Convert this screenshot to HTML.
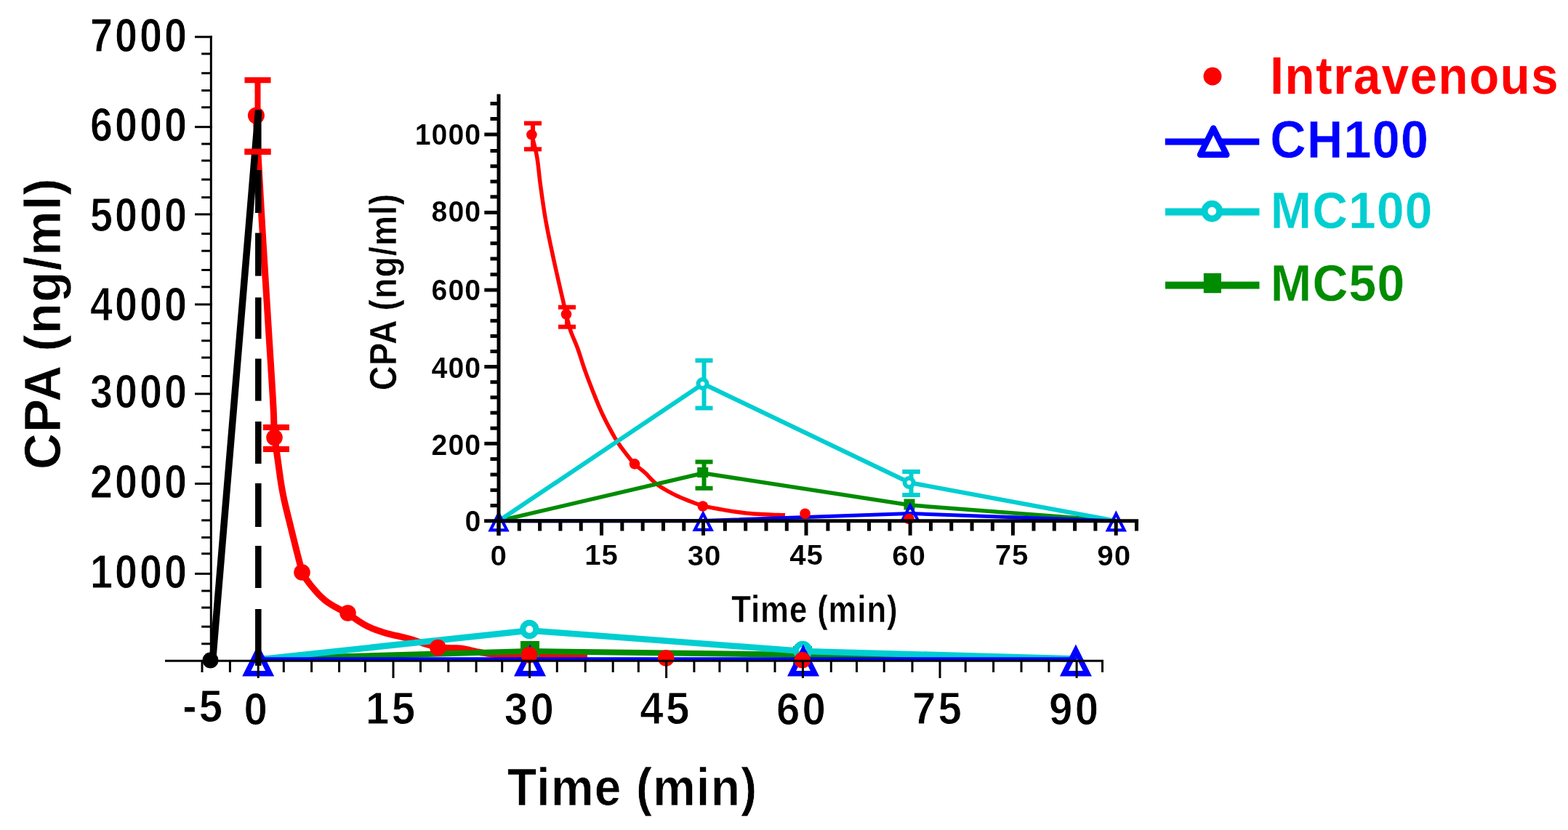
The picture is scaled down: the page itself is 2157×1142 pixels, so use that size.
<!DOCTYPE html>
<html><head><meta charset="utf-8"><title>CPA plasma concentration</title>
<style>html,body{margin:0;padding:0;background:#fff;overflow:hidden}svg{display:block}
text{font-family:"Liberation Sans",sans-serif;font-weight:bold;font-size:100px;stroke-linejoin:round}</style></head>
<body><svg width="2157" height="1142" viewBox="0 0 2157 1142">
<rect x="0" y="0" width="2157" height="1142" fill="#fff"/>
<polyline points="352,158 352.8,172.23 353.59,186.5 354.39,200.8 355.18,215.1 355.98,229.39 356.77,243.65 357.57,257.86 358.38,272 359.19,286.05 360,300 360.79,313.23 361.58,326.37 362.38,339.42 363.18,352.41 363.98,365.36 364.78,378.28 365.59,391.18 366.39,404.09 367.2,417.03 368,430 368.83,443.33 369.7,457.17 370.59,471.3 371.49,485.5 372.38,499.56 373.24,513.25 374.05,526.36 374.79,538.67 375.45,549.95 376,560 376.24,565.07 376.44,569.8 376.59,574.24 376.71,578.44 376.83,582.43 376.95,586.27 377.1,590.01 377.28,593.68 377.51,597.32 377.8,601 378.09,603.99 378.4,606.83 378.74,609.56 379.1,612.22 379.48,614.86 379.87,617.5 380.29,620.2 380.71,622.99 381.15,625.91 381.6,629 382.21,633.35 382.83,637.94 383.47,642.71 384.14,647.64 384.83,652.67 385.56,657.78 386.33,662.9 387.14,668.01 387.99,673.05 388.9,678 389.88,682.92 390.92,687.83 392.02,692.73 393.16,697.63 394.34,702.53 395.54,707.43 396.76,712.32 397.98,717.21 399.2,722.11 400.4,727 401.63,732.05 402.93,737.34 404.27,742.75 405.63,748.2 406.97,753.58 408.29,758.79 409.54,763.74 410.71,768.32 411.77,772.44 412.7,776 413.08,777.52 413.39,778.89 413.65,780.13 413.88,781.28 414.11,782.37 414.36,783.44 414.65,784.5 415.01,785.59 415.45,786.75 416,788 416.97,789.93 418.12,791.96 419.41,794.06 420.83,796.21 422.35,798.39 423.94,800.58 425.59,802.76 427.26,804.9 428.94,806.99 430.6,809 432.26,810.97 433.93,812.91 435.63,814.82 437.37,816.71 439.14,818.57 440.97,820.4 442.86,822.2 444.82,823.97 446.87,825.7 449,827.4 451.6,829.29 454.36,831.1 457.26,832.86 460.27,834.57 463.34,836.25 466.44,837.91 469.54,839.56 472.61,841.22 475.61,842.89 478.5,844.6 481.15,846.26 483.76,847.97 486.34,849.71 488.9,851.46 491.44,853.19 493.97,854.89 496.5,856.55 499.05,858.13 501.61,859.62 504.2,861 506.61,862.18 509.01,863.29 511.4,864.34 513.8,865.32 516.2,866.25 518.63,867.15 521.09,868.01 523.58,868.85 526.11,869.68 528.7,870.5 531.58,871.36 534.5,872.15 537.45,872.89 540.44,873.59 543.48,874.27 546.55,874.95 549.68,875.65 552.86,876.38 556.1,877.16 559.4,878 563.49,879.15 567.74,880.43 572.12,881.82 576.59,883.26 581.11,884.71 585.64,886.13 590.13,887.46 594.55,888.66 598.85,889.69 603,890.5 606.39,890.98 609.74,891.3 613.05,891.49 616.31,891.59 619.53,891.63 622.71,891.66 625.84,891.7 628.94,891.79 631.99,891.98 635,892.3 637.62,892.69 640.18,893.15 642.67,893.67 645.12,894.23 647.56,894.81 649.98,895.39 652.42,895.97 654.9,896.53 657.41,897.04 660,897.5 662.86,897.95 665.75,898.38 668.67,898.79 671.61,899.18 674.59,899.54 677.6,899.88 680.64,900.2 683.72,900.49 686.84,900.76 690,901 693.61,901.23 697.28,901.4 701,901.53 704.78,901.63 708.59,901.7 712.44,901.75 716.32,901.8 720.2,901.85 724.1,901.92 728,902 732.12,902.1 736.3,902.21 740.51,902.32 744.75,902.43 749,902.53 753.25,902.64 757.49,902.74 761.7,902.83 765.88,902.92 770,903 773.88,903.07 777.72,903.13 781.54,903.18 785.34,903.23 789.12,903.28 792.89,903.32 796.66,903.36 800.43,903.41 804.21,903.45 808,903.5" fill="none" stroke="#ff0000" stroke-width="9" stroke-linejoin="round" stroke-linecap="butt"/>
<polyline points="355.2,906.5 728.6,896 1104.4,901 1481.1,906.5" fill="none" stroke="#008c00" stroke-width="8" stroke-linejoin="round" stroke-linecap="butt"/>
<rect x="716" y="882" width="26" height="26" fill="#008c00"/>
<rect x="1091" y="889" width="26" height="26" fill="#008c00"/>
<polyline points="355.2,907.5 728.6,867.5 1104.4,896 1481.1,906.5" fill="none" stroke="#00ced1" stroke-width="8.5" stroke-linejoin="round" stroke-linecap="butt"/>
<circle cx="728.3" cy="866" r="9.1" fill="#fff" stroke="#00ced1" stroke-width="8.2"/>
<circle cx="1104.2" cy="895" r="9.1" fill="#fff" stroke="#00ced1" stroke-width="8.2"/>
<line x1="355.2" y1="906.8" x2="1481.1" y2="906.8" stroke="#0000ff" stroke-width="5" stroke-linecap="butt"/>
<path d="M355.2 886.5L377.2 930.5L333.2 930.5ZM355.2 903.27L365.06 923L345.34 923Z" fill="#0000ff" fill-rule="evenodd"/>
<path d="M729 886.5L751 930.5L707 930.5ZM729 903.27L738.86 923L719.14 923Z" fill="#0000ff" fill-rule="evenodd"/>
<path d="M1105 886.5L1127 930.5L1083 930.5ZM1105 903.27L1114.86 923L1095.14 923Z" fill="#0000ff" fill-rule="evenodd"/>
<path d="M1479.9 886.5L1501.9 930.5L1457.9 930.5ZM1479.9 903.27L1489.76 923L1470.04 923Z" fill="#0000ff" fill-rule="evenodd"/>
<line x1="354.5" y1="110.2" x2="354.5" y2="208.8" stroke="#ff0000" stroke-width="8" stroke-linecap="butt"/>
<line x1="336.5" y1="110.2" x2="372.5" y2="110.2" stroke="#ff0000" stroke-width="8" stroke-linecap="butt"/>
<line x1="336.5" y1="208.8" x2="372.5" y2="208.8" stroke="#ff0000" stroke-width="8" stroke-linecap="butt"/>
<circle cx="352.4" cy="159" r="11.5" fill="#ff0000"/>
<line x1="380" y1="588.1" x2="380" y2="618.1" stroke="#ff0000" stroke-width="8" stroke-linecap="butt"/>
<line x1="362" y1="588.1" x2="398" y2="588.1" stroke="#ff0000" stroke-width="8" stroke-linecap="butt"/>
<line x1="362" y1="618.1" x2="398" y2="618.1" stroke="#ff0000" stroke-width="8" stroke-linecap="butt"/>
<circle cx="377.5" cy="602" r="11.3" fill="#ff0000"/>
<circle cx="415.5" cy="787.5" r="11.3" fill="#ff0000"/>
<circle cx="478.5" cy="843.5" r="11.3" fill="#ff0000"/>
<circle cx="602.4" cy="891" r="11.3" fill="#ff0000"/>
<circle cx="728" cy="901.3" r="11.3" fill="#ff0000"/>
<circle cx="916.2" cy="905.5" r="11.3" fill="#ff0000"/>
<circle cx="1103.8" cy="908.2" r="11.3" fill="#ff0000"/>
<polyline points="292.5,909 355.5,153" fill="none" stroke="#000000" stroke-width="9.5" stroke-linejoin="round" stroke-linecap="butt"/>
<circle cx="289.5" cy="908.5" r="11" fill="#000000"/>
<line x1="355.3" y1="151" x2="355.3" y2="208" stroke="#000000" stroke-width="8.5" stroke-linecap="butt"/>
<line x1="355.3" y1="234" x2="355.3" y2="293" stroke="#000000" stroke-width="8.5" stroke-linecap="butt"/>
<line x1="355.3" y1="320.5" x2="355.3" y2="379.7" stroke="#000000" stroke-width="8.5" stroke-linecap="butt"/>
<line x1="355.3" y1="409.3" x2="355.3" y2="466.2" stroke="#000000" stroke-width="8.5" stroke-linecap="butt"/>
<line x1="355.3" y1="493.5" x2="355.3" y2="551.6" stroke="#000000" stroke-width="8.5" stroke-linecap="butt"/>
<line x1="355.3" y1="580" x2="355.3" y2="638" stroke="#000000" stroke-width="8.5" stroke-linecap="butt"/>
<line x1="355.3" y1="665" x2="355.3" y2="725" stroke="#000000" stroke-width="8.5" stroke-linecap="butt"/>
<line x1="355.3" y1="751" x2="355.3" y2="809" stroke="#000000" stroke-width="8.5" stroke-linecap="butt"/>
<line x1="355.3" y1="838" x2="355.3" y2="916" stroke="#000000" stroke-width="8.5" stroke-linecap="butt"/>
<line x1="336.5" y1="208.8" x2="372.5" y2="208.8" stroke="#ff0000" stroke-width="8" stroke-linecap="butt"/>
<line x1="290.3" y1="49.3" x2="290.3" y2="909.3" stroke="#000000" stroke-width="3" stroke-linecap="butt"/>
<line x1="268" y1="50.8" x2="291.8" y2="50.8" stroke="#000000" stroke-width="3" stroke-linecap="butt"/>
<line x1="268" y1="174.7" x2="291.8" y2="174.7" stroke="#000000" stroke-width="3" stroke-linecap="butt"/>
<line x1="268" y1="294.9" x2="291.8" y2="294.9" stroke="#000000" stroke-width="3" stroke-linecap="butt"/>
<line x1="268" y1="418.9" x2="291.8" y2="418.9" stroke="#000000" stroke-width="3" stroke-linecap="butt"/>
<line x1="268" y1="541.9" x2="291.8" y2="541.9" stroke="#000000" stroke-width="3" stroke-linecap="butt"/>
<line x1="268" y1="665.5" x2="291.8" y2="665.5" stroke="#000000" stroke-width="3" stroke-linecap="butt"/>
<line x1="268" y1="789.4" x2="291.8" y2="789.4" stroke="#000000" stroke-width="3" stroke-linecap="butt"/>
<line x1="277.2" y1="74" x2="290.3" y2="74" stroke="#000000" stroke-width="3" stroke-linecap="butt"/>
<line x1="277.2" y1="100.7" x2="290.3" y2="100.7" stroke="#000000" stroke-width="3" stroke-linecap="butt"/>
<line x1="277.2" y1="124.5" x2="290.3" y2="124.5" stroke="#000000" stroke-width="3" stroke-linecap="butt"/>
<line x1="277.2" y1="147.7" x2="290.3" y2="147.7" stroke="#000000" stroke-width="3" stroke-linecap="butt"/>
<line x1="277.2" y1="198" x2="290.3" y2="198" stroke="#000000" stroke-width="3" stroke-linecap="butt"/>
<line x1="277.2" y1="221" x2="290.3" y2="221" stroke="#000000" stroke-width="3" stroke-linecap="butt"/>
<line x1="277.2" y1="247" x2="290.3" y2="247" stroke="#000000" stroke-width="3" stroke-linecap="butt"/>
<line x1="277.2" y1="271.6" x2="290.3" y2="271.6" stroke="#000000" stroke-width="3" stroke-linecap="butt"/>
<line x1="277.2" y1="321.6" x2="290.3" y2="321.6" stroke="#000000" stroke-width="3" stroke-linecap="butt"/>
<line x1="277.2" y1="345.2" x2="290.3" y2="345.2" stroke="#000000" stroke-width="3" stroke-linecap="butt"/>
<line x1="277.2" y1="371.5" x2="290.3" y2="371.5" stroke="#000000" stroke-width="3" stroke-linecap="butt"/>
<line x1="277.2" y1="394.8" x2="290.3" y2="394.8" stroke="#000000" stroke-width="3" stroke-linecap="butt"/>
<line x1="277.2" y1="444.7" x2="290.3" y2="444.7" stroke="#000000" stroke-width="3" stroke-linecap="butt"/>
<line x1="277.2" y1="468.8" x2="290.3" y2="468.8" stroke="#000000" stroke-width="3" stroke-linecap="butt"/>
<line x1="277.2" y1="492" x2="290.3" y2="492" stroke="#000000" stroke-width="3" stroke-linecap="butt"/>
<line x1="277.2" y1="517.5" x2="290.3" y2="517.5" stroke="#000000" stroke-width="3" stroke-linecap="butt"/>
<line x1="277.2" y1="565.7" x2="290.3" y2="565.7" stroke="#000000" stroke-width="3" stroke-linecap="butt"/>
<line x1="277.2" y1="591.8" x2="290.3" y2="591.8" stroke="#000000" stroke-width="3" stroke-linecap="butt"/>
<line x1="277.2" y1="615.1" x2="290.3" y2="615.1" stroke="#000000" stroke-width="3" stroke-linecap="butt"/>
<line x1="277.2" y1="642.3" x2="290.3" y2="642.3" stroke="#000000" stroke-width="3" stroke-linecap="butt"/>
<line x1="277.2" y1="688.8" x2="290.3" y2="688.8" stroke="#000000" stroke-width="3" stroke-linecap="butt"/>
<line x1="277.2" y1="715.9" x2="290.3" y2="715.9" stroke="#000000" stroke-width="3" stroke-linecap="butt"/>
<line x1="277.2" y1="739.5" x2="290.3" y2="739.5" stroke="#000000" stroke-width="3" stroke-linecap="butt"/>
<line x1="277.2" y1="761.8" x2="290.3" y2="761.8" stroke="#000000" stroke-width="3" stroke-linecap="butt"/>
<line x1="277.2" y1="813" x2="290.3" y2="813" stroke="#000000" stroke-width="3" stroke-linecap="butt"/>
<line x1="277.2" y1="836" x2="290.3" y2="836" stroke="#000000" stroke-width="3" stroke-linecap="butt"/>
<line x1="277.2" y1="862.2" x2="290.3" y2="862.2" stroke="#000000" stroke-width="3" stroke-linecap="butt"/>
<line x1="277.2" y1="885.8" x2="290.3" y2="885.8" stroke="#000000" stroke-width="3" stroke-linecap="butt"/>
<line x1="227" y1="909.3" x2="1518" y2="909.3" stroke="#000000" stroke-width="3" stroke-linecap="butt"/>
<line x1="355.2" y1="909.3" x2="355.2" y2="933" stroke="#000000" stroke-width="3" stroke-linecap="butt"/>
<line x1="541" y1="909.3" x2="541" y2="933" stroke="#000000" stroke-width="3" stroke-linecap="butt"/>
<line x1="728.6" y1="909.3" x2="728.6" y2="933" stroke="#000000" stroke-width="3" stroke-linecap="butt"/>
<line x1="916.6" y1="909.3" x2="916.6" y2="933" stroke="#000000" stroke-width="3" stroke-linecap="butt"/>
<line x1="1104.4" y1="909.3" x2="1104.4" y2="933" stroke="#000000" stroke-width="3" stroke-linecap="butt"/>
<line x1="1293" y1="909.3" x2="1293" y2="933" stroke="#000000" stroke-width="3" stroke-linecap="butt"/>
<line x1="1481.1" y1="909.3" x2="1481.1" y2="933" stroke="#000000" stroke-width="3" stroke-linecap="butt"/>
<line x1="278" y1="909.3" x2="278" y2="925" stroke="#000000" stroke-width="3" stroke-linecap="butt"/>
<line x1="316.4" y1="909.3" x2="316.4" y2="925" stroke="#000000" stroke-width="3" stroke-linecap="butt"/>
<line x1="390.3" y1="909.3" x2="390.3" y2="925" stroke="#000000" stroke-width="3" stroke-linecap="butt"/>
<line x1="428.6" y1="909.3" x2="428.6" y2="925" stroke="#000000" stroke-width="3" stroke-linecap="butt"/>
<line x1="466.6" y1="909.3" x2="466.6" y2="925" stroke="#000000" stroke-width="3" stroke-linecap="butt"/>
<line x1="502.4" y1="909.3" x2="502.4" y2="925" stroke="#000000" stroke-width="3" stroke-linecap="butt"/>
<line x1="578.5" y1="909.3" x2="578.5" y2="925" stroke="#000000" stroke-width="3" stroke-linecap="butt"/>
<line x1="616.8" y1="909.3" x2="616.8" y2="925" stroke="#000000" stroke-width="3" stroke-linecap="butt"/>
<line x1="655.1" y1="909.3" x2="655.1" y2="925" stroke="#000000" stroke-width="3" stroke-linecap="butt"/>
<line x1="690.7" y1="909.3" x2="690.7" y2="925" stroke="#000000" stroke-width="3" stroke-linecap="butt"/>
<line x1="766.3" y1="909.3" x2="766.3" y2="925" stroke="#000000" stroke-width="3" stroke-linecap="butt"/>
<line x1="805.2" y1="909.3" x2="805.2" y2="925" stroke="#000000" stroke-width="3" stroke-linecap="butt"/>
<line x1="843.2" y1="909.3" x2="843.2" y2="925" stroke="#000000" stroke-width="3" stroke-linecap="butt"/>
<line x1="878.3" y1="909.3" x2="878.3" y2="925" stroke="#000000" stroke-width="3" stroke-linecap="butt"/>
<line x1="954.9" y1="909.3" x2="954.9" y2="925" stroke="#000000" stroke-width="3" stroke-linecap="butt"/>
<line x1="989.9" y1="909.3" x2="989.9" y2="925" stroke="#000000" stroke-width="3" stroke-linecap="butt"/>
<line x1="1028" y1="909.3" x2="1028" y2="925" stroke="#000000" stroke-width="3" stroke-linecap="butt"/>
<line x1="1066" y1="909.3" x2="1066" y2="925" stroke="#000000" stroke-width="3" stroke-linecap="butt"/>
<line x1="1143.3" y1="909.3" x2="1143.3" y2="925" stroke="#000000" stroke-width="3" stroke-linecap="butt"/>
<line x1="1178.5" y1="909.3" x2="1178.5" y2="925" stroke="#000000" stroke-width="3" stroke-linecap="butt"/>
<line x1="1216.2" y1="909.3" x2="1216.2" y2="925" stroke="#000000" stroke-width="3" stroke-linecap="butt"/>
<line x1="1255" y1="909.3" x2="1255" y2="925" stroke="#000000" stroke-width="3" stroke-linecap="butt"/>
<line x1="1328.2" y1="909.3" x2="1328.2" y2="925" stroke="#000000" stroke-width="3" stroke-linecap="butt"/>
<line x1="1366.6" y1="909.3" x2="1366.6" y2="925" stroke="#000000" stroke-width="3" stroke-linecap="butt"/>
<line x1="1405" y1="909.3" x2="1405" y2="925" stroke="#000000" stroke-width="3" stroke-linecap="butt"/>
<line x1="1442.9" y1="909.3" x2="1442.9" y2="925" stroke="#000000" stroke-width="3" stroke-linecap="butt"/>
<line x1="1516.5" y1="909.3" x2="1516.5" y2="925" stroke="#000000" stroke-width="3" stroke-linecap="butt"/>
<text transform="matrix(0.5563 0 0 0.6507 124.02 70.75)" fill="#000000" letter-spacing="5.5" stroke="#fff" stroke-width="1.5">7000</text>
<text transform="matrix(0.5563 0 0 0.6507 124.02 193.85)" fill="#000000" letter-spacing="5.5" stroke="#fff" stroke-width="1.5">6000</text>
<text transform="matrix(0.5563 0 0 0.6507 124.02 317.75)" fill="#000000" letter-spacing="5.5" stroke="#fff" stroke-width="1.5">5000</text>
<text transform="matrix(0.5563 0 0 0.6507 124.02 440.95)" fill="#000000" letter-spacing="5.5" stroke="#fff" stroke-width="1.5">4000</text>
<text transform="matrix(0.5563 0 0 0.6507 124.02 561.35)" fill="#000000" letter-spacing="5.5" stroke="#fff" stroke-width="1.5">3000</text>
<text transform="matrix(0.5563 0 0 0.6507 124.02 685.05)" fill="#000000" letter-spacing="5.5" stroke="#fff" stroke-width="1.5">2000</text>
<text transform="matrix(0.5563 0 0 0.6507 124.02 808.75)" fill="#000000" letter-spacing="5.5" stroke="#fff" stroke-width="1.5">1000</text>
<text transform="matrix(0.5823 0 0 0.6377 251.19 992.86)" fill="#000000" letter-spacing="5.5" stroke="#fff" stroke-width="1.5">-5</text>
<text transform="matrix(0.5823 0 0 0.6377 335.39 996.6)" fill="#000000" letter-spacing="5.5" stroke="#fff" stroke-width="1.5">0</text>
<text transform="matrix(0.5823 0 0 0.6377 503.06 995.96)" fill="#000000" letter-spacing="5.5" stroke="#fff" stroke-width="1.5">15</text>
<text transform="matrix(0.5823 0 0 0.6377 693.87 996.6)" fill="#000000" letter-spacing="5.5" stroke="#fff" stroke-width="1.5">30</text>
<text transform="matrix(0.5823 0 0 0.6377 880.37 995.96)" fill="#000000" letter-spacing="5.5" stroke="#fff" stroke-width="1.5">45</text>
<text transform="matrix(0.5823 0 0 0.6377 1067.98 996.6)" fill="#000000" letter-spacing="5.5" stroke="#fff" stroke-width="1.5">60</text>
<text transform="matrix(0.5823 0 0 0.6377 1254.94 995.96)" fill="#000000" letter-spacing="5.5" stroke="#fff" stroke-width="1.5">75</text>
<text transform="matrix(0.5823 0 0 0.6377 1443.08 996.6)" fill="#000000" letter-spacing="5.5" stroke="#fff" stroke-width="1.5">90</text>
<text transform="matrix(0.6575 0 0 0.7304 698.01 1108.23)" fill="#000000" letter-spacing="2" stroke="#fff" stroke-width="1">Time (min)</text>
<text transform="matrix(0 -0.6895 0.7086 0 82.65 646.1)" fill="#000000" letter-spacing="2" stroke="#fff" stroke-width="1">CPA (ng/ml)</text>
<polyline points="731.4,185.3 732.6,190.08 733.83,194.79 735.06,199.51 736.26,204.28 737.38,209.19 738.4,214.3 739.39,220.42 740.23,226.74 740.97,233.24 741.68,239.88 742.43,246.64 743.3,253.5 744.38,261.37 745.5,269.47 746.67,277.73 747.91,286.05 749.21,294.37 750.6,302.6 752.09,310.78 753.67,318.96 755.32,327.12 757.02,335.29 758.76,343.44 760.5,351.6 762.29,359.89 764.16,368.33 766.05,376.76 767.93,385.05 769.76,393.04 771.5,400.6 772.83,406.38 774.12,411.96 775.37,417.35 776.6,422.56 777.81,427.61 779,432.5 779.94,436.4 780.82,440.11 781.68,443.71 782.58,447.27 783.57,450.84 784.7,454.5 786.12,458.51 787.71,462.51 789.41,466.54 791.15,470.61 792.87,474.76 794.5,479 796.17,483.74 797.79,488.62 799.38,493.58 800.97,498.57 802.61,503.56 804.3,508.5 806.07,513.42 807.87,518.33 809.71,523.23 811.58,528.12 813.48,533.01 815.4,537.9 817.37,542.86 819.37,547.88 821.41,552.9 823.46,557.85 825.53,562.67 827.6,567.3 829.43,571.23 831.28,575.04 833.14,578.76 835,582.39 836.86,585.93 838.7,589.4 840.32,592.41 841.9,595.34 843.48,598.19 845.09,601 846.75,603.8 848.5,606.6 850.4,609.51 852.38,612.41 854.42,615.3 856.5,618.15 858.6,620.96 860.7,623.7 862.69,626.27 864.66,628.81 866.66,631.3 868.7,633.74 870.8,636.11 873,638.4 875.32,640.57 877.74,642.61 880.24,644.59 882.75,646.56 885.26,648.57 887.7,650.7 890.12,653.06 892.43,655.53 894.73,658.05 897.1,660.58 899.63,663.04 902.4,665.4 906.03,668.06 909.98,670.66 914.15,673.19 918.43,675.62 922.72,677.93 926.9,680.1 930.78,682 934.71,683.79 938.65,685.48 942.54,687.07 946.34,688.57 950,690 952.95,691.15 955.79,692.25 958.57,693.28 961.33,694.25 964.12,695.16 967,696 970.05,696.78 973.13,697.46 976.25,698.07 979.41,698.64 982.63,699.21 985.9,699.8 989.58,700.48 993.36,701.16 997.2,701.84 1001.07,702.49 1004.95,703.12 1008.8,703.7 1012.59,704.24 1016.33,704.76 1020.08,705.24 1023.88,705.69 1027.77,706.11 1031.8,706.5 1036.74,706.9 1041.98,707.26 1047.35,707.58 1052.66,707.85 1057.73,708.09 1062.4,708.3 1065.61,708.43 1068.62,708.52 1071.5,708.6 1074.31,708.66 1077.12,708.73 1080,708.8" fill="none" stroke="#ff0000" stroke-width="5.5" stroke-linejoin="round" stroke-linecap="butt"/>
<polyline points="686,716.8 967.2,651 1252,695 1535.2,716.8" fill="none" stroke="#008c00" stroke-width="5.5" stroke-linejoin="round" stroke-linecap="butt"/>
<line x1="968.5" y1="635.5" x2="968.5" y2="671.8" stroke="#008c00" stroke-width="6" stroke-linecap="butt"/>
<line x1="956.5" y1="635.5" x2="980.5" y2="635.5" stroke="#008c00" stroke-width="6" stroke-linecap="butt"/>
<line x1="956.5" y1="671.8" x2="980.5" y2="671.8" stroke="#008c00" stroke-width="6" stroke-linecap="butt"/>
<rect x="959.2" y="643" width="15" height="14" fill="#008c00"/>
<rect x="1243.5" y="686.5" width="15" height="15" fill="#008c00"/>
<polyline points="686,716.8 967.2,528 1251,664 1535.2,716.8" fill="none" stroke="#00ced1" stroke-width="6" stroke-linejoin="round" stroke-linecap="butt"/>
<line x1="968.5" y1="496" x2="968.5" y2="561.5" stroke="#00ced1" stroke-width="6" stroke-linecap="butt"/>
<line x1="956.5" y1="496" x2="980.5" y2="496" stroke="#00ced1" stroke-width="6" stroke-linecap="butt"/>
<line x1="956.5" y1="561.5" x2="980.5" y2="561.5" stroke="#00ced1" stroke-width="6" stroke-linecap="butt"/>
<line x1="1253.5" y1="649" x2="1253.5" y2="681" stroke="#00ced1" stroke-width="6" stroke-linecap="butt"/>
<line x1="1241.25" y1="649" x2="1265.75" y2="649" stroke="#00ced1" stroke-width="6" stroke-linecap="butt"/>
<line x1="1241.25" y1="681" x2="1265.75" y2="681" stroke="#00ced1" stroke-width="6" stroke-linecap="butt"/>
<circle cx="966.5" cy="528" r="6" fill="#fff" stroke="#00ced1" stroke-width="6"/>
<circle cx="1250.5" cy="664" r="6" fill="#fff" stroke="#00ced1" stroke-width="6"/>
<polyline points="686,716.8 967.2,716.5 1252,706.5 1535.2,716.8" fill="none" stroke="#0000ff" stroke-width="5" stroke-linejoin="round" stroke-linecap="butt"/>
<path d="M686 702.3L700.75 731.5L671.25 731.5ZM686 711.62L693.92 727.3L678.08 727.3Z" fill="#0000ff" fill-rule="evenodd"/>
<path d="M967.2 702L981.95 731L952.45 731ZM967.2 711.26L975.1 726.8L959.3 726.8Z" fill="#0000ff" fill-rule="evenodd"/>
<path d="M1252 691L1266.75 719L1237.25 719ZM1252 700.01L1259.79 714.8L1244.21 714.8Z" fill="#0000ff" fill-rule="evenodd"/>
<path d="M1535.3 702.2L1550.05 731.5L1520.55 731.5ZM1535.3 711.54L1543.23 727.3L1527.37 727.3Z" fill="#0000ff" fill-rule="evenodd"/>
<line x1="733" y1="169.6" x2="733" y2="205.3" stroke="#ff0000" stroke-width="6" stroke-linecap="butt"/>
<line x1="721" y1="169.6" x2="745" y2="169.6" stroke="#ff0000" stroke-width="6" stroke-linecap="butt"/>
<line x1="721" y1="205.3" x2="745" y2="205.3" stroke="#ff0000" stroke-width="6" stroke-linecap="butt"/>
<line x1="780" y1="422.7" x2="780" y2="449.7" stroke="#ff0000" stroke-width="6" stroke-linecap="butt"/>
<line x1="768" y1="422.7" x2="792" y2="422.7" stroke="#ff0000" stroke-width="6" stroke-linecap="butt"/>
<line x1="768" y1="449.7" x2="792" y2="449.7" stroke="#ff0000" stroke-width="6" stroke-linecap="butt"/>
<circle cx="731.4" cy="185.3" r="7.3" fill="#ff0000"/>
<circle cx="779" cy="432.5" r="7.3" fill="#ff0000"/>
<circle cx="873" cy="638.4" r="7.3" fill="#ff0000"/>
<circle cx="966.8" cy="696.5" r="7.3" fill="#ff0000"/>
<circle cx="1107.5" cy="706.7" r="7.3" fill="#ff0000"/>
<circle cx="1250.5" cy="714" r="7.3" fill="#ff0000"/>
<line x1="686" y1="129.4" x2="686" y2="736.7" stroke="#000000" stroke-width="5" stroke-linecap="butt"/>
<line x1="666.3" y1="185" x2="686" y2="185" stroke="#000000" stroke-width="5" stroke-linecap="butt"/>
<line x1="666.3" y1="292.4" x2="686" y2="292.4" stroke="#000000" stroke-width="5" stroke-linecap="butt"/>
<line x1="666.3" y1="399" x2="686" y2="399" stroke="#000000" stroke-width="5" stroke-linecap="butt"/>
<line x1="666.3" y1="504.6" x2="686" y2="504.6" stroke="#000000" stroke-width="5" stroke-linecap="butt"/>
<line x1="666.3" y1="610.3" x2="686" y2="610.3" stroke="#000000" stroke-width="5" stroke-linecap="butt"/>
<line x1="674.5" y1="142.5" x2="686" y2="142.5" stroke="#000000" stroke-width="5" stroke-linecap="butt"/>
<line x1="674.5" y1="163.5" x2="686" y2="163.5" stroke="#000000" stroke-width="5" stroke-linecap="butt"/>
<line x1="674.5" y1="207.5" x2="686" y2="207.5" stroke="#000000" stroke-width="5" stroke-linecap="butt"/>
<line x1="674.5" y1="228.7" x2="686" y2="228.7" stroke="#000000" stroke-width="5" stroke-linecap="butt"/>
<line x1="674.5" y1="249.8" x2="686" y2="249.8" stroke="#000000" stroke-width="5" stroke-linecap="butt"/>
<line x1="674.5" y1="270.8" x2="686" y2="270.8" stroke="#000000" stroke-width="5" stroke-linecap="butt"/>
<line x1="674.5" y1="313.6" x2="686" y2="313.6" stroke="#000000" stroke-width="5" stroke-linecap="butt"/>
<line x1="674.5" y1="334.8" x2="686" y2="334.8" stroke="#000000" stroke-width="5" stroke-linecap="butt"/>
<line x1="674.5" y1="356" x2="686" y2="356" stroke="#000000" stroke-width="5" stroke-linecap="butt"/>
<line x1="674.5" y1="377.7" x2="686" y2="377.7" stroke="#000000" stroke-width="5" stroke-linecap="butt"/>
<line x1="674.5" y1="420.2" x2="686" y2="420.2" stroke="#000000" stroke-width="5" stroke-linecap="butt"/>
<line x1="674.5" y1="441.3" x2="686" y2="441.3" stroke="#000000" stroke-width="5" stroke-linecap="butt"/>
<line x1="674.5" y1="462.4" x2="686" y2="462.4" stroke="#000000" stroke-width="5" stroke-linecap="butt"/>
<line x1="674.5" y1="483.5" x2="686" y2="483.5" stroke="#000000" stroke-width="5" stroke-linecap="butt"/>
<line x1="674.5" y1="525.7" x2="686" y2="525.7" stroke="#000000" stroke-width="5" stroke-linecap="butt"/>
<line x1="674.5" y1="546.8" x2="686" y2="546.8" stroke="#000000" stroke-width="5" stroke-linecap="butt"/>
<line x1="674.5" y1="568" x2="686" y2="568" stroke="#000000" stroke-width="5" stroke-linecap="butt"/>
<line x1="674.5" y1="589.2" x2="686" y2="589.2" stroke="#000000" stroke-width="5" stroke-linecap="butt"/>
<line x1="674.5" y1="631.6" x2="686" y2="631.6" stroke="#000000" stroke-width="5" stroke-linecap="butt"/>
<line x1="674.5" y1="653" x2="686" y2="653" stroke="#000000" stroke-width="5" stroke-linecap="butt"/>
<line x1="674.5" y1="674.4" x2="686" y2="674.4" stroke="#000000" stroke-width="5" stroke-linecap="butt"/>
<line x1="674.5" y1="695.6" x2="686" y2="695.6" stroke="#000000" stroke-width="5" stroke-linecap="butt"/>
<line x1="666.1" y1="716.8" x2="1566.1" y2="716.8" stroke="#000000" stroke-width="5" stroke-linecap="butt"/>
<line x1="686" y1="716.8" x2="686" y2="736.7" stroke="#000000" stroke-width="5" stroke-linecap="butt"/>
<line x1="827.5" y1="716.8" x2="827.5" y2="736.7" stroke="#000000" stroke-width="5" stroke-linecap="butt"/>
<line x1="967.5" y1="716.8" x2="967.5" y2="736.7" stroke="#000000" stroke-width="5" stroke-linecap="butt"/>
<line x1="1109" y1="716.8" x2="1109" y2="736.7" stroke="#000000" stroke-width="5" stroke-linecap="butt"/>
<line x1="1252.1" y1="716.8" x2="1252.1" y2="736.7" stroke="#000000" stroke-width="5" stroke-linecap="butt"/>
<line x1="1393.4" y1="716.8" x2="1393.4" y2="736.7" stroke="#000000" stroke-width="5" stroke-linecap="butt"/>
<line x1="1535.2" y1="716.8" x2="1535.2" y2="736.7" stroke="#000000" stroke-width="5" stroke-linecap="butt"/>
<line x1="714.31" y1="716.8" x2="714.31" y2="730.5" stroke="#000000" stroke-width="5" stroke-linecap="butt"/>
<line x1="742.61" y1="716.8" x2="742.61" y2="730.5" stroke="#000000" stroke-width="5" stroke-linecap="butt"/>
<line x1="770.92" y1="716.8" x2="770.92" y2="730.5" stroke="#000000" stroke-width="5" stroke-linecap="butt"/>
<line x1="799.23" y1="716.8" x2="799.23" y2="730.5" stroke="#000000" stroke-width="5" stroke-linecap="butt"/>
<line x1="855.84" y1="716.8" x2="855.84" y2="730.5" stroke="#000000" stroke-width="5" stroke-linecap="butt"/>
<line x1="884.15" y1="716.8" x2="884.15" y2="730.5" stroke="#000000" stroke-width="5" stroke-linecap="butt"/>
<line x1="912.45" y1="716.8" x2="912.45" y2="730.5" stroke="#000000" stroke-width="5" stroke-linecap="butt"/>
<line x1="940.76" y1="716.8" x2="940.76" y2="730.5" stroke="#000000" stroke-width="5" stroke-linecap="butt"/>
<line x1="997.37" y1="716.8" x2="997.37" y2="730.5" stroke="#000000" stroke-width="5" stroke-linecap="butt"/>
<line x1="1025.68" y1="716.8" x2="1025.68" y2="730.5" stroke="#000000" stroke-width="5" stroke-linecap="butt"/>
<line x1="1053.99" y1="716.8" x2="1053.99" y2="730.5" stroke="#000000" stroke-width="5" stroke-linecap="butt"/>
<line x1="1082.29" y1="716.8" x2="1082.29" y2="730.5" stroke="#000000" stroke-width="5" stroke-linecap="butt"/>
<line x1="1138.91" y1="716.8" x2="1138.91" y2="730.5" stroke="#000000" stroke-width="5" stroke-linecap="butt"/>
<line x1="1167.21" y1="716.8" x2="1167.21" y2="730.5" stroke="#000000" stroke-width="5" stroke-linecap="butt"/>
<line x1="1195.52" y1="716.8" x2="1195.52" y2="730.5" stroke="#000000" stroke-width="5" stroke-linecap="butt"/>
<line x1="1223.83" y1="716.8" x2="1223.83" y2="730.5" stroke="#000000" stroke-width="5" stroke-linecap="butt"/>
<line x1="1280.44" y1="716.8" x2="1280.44" y2="730.5" stroke="#000000" stroke-width="5" stroke-linecap="butt"/>
<line x1="1308.75" y1="716.8" x2="1308.75" y2="730.5" stroke="#000000" stroke-width="5" stroke-linecap="butt"/>
<line x1="1337.05" y1="716.8" x2="1337.05" y2="730.5" stroke="#000000" stroke-width="5" stroke-linecap="butt"/>
<line x1="1365.36" y1="716.8" x2="1365.36" y2="730.5" stroke="#000000" stroke-width="5" stroke-linecap="butt"/>
<line x1="1421.97" y1="716.8" x2="1421.97" y2="730.5" stroke="#000000" stroke-width="5" stroke-linecap="butt"/>
<line x1="1450.28" y1="716.8" x2="1450.28" y2="730.5" stroke="#000000" stroke-width="5" stroke-linecap="butt"/>
<line x1="1478.59" y1="716.8" x2="1478.59" y2="730.5" stroke="#000000" stroke-width="5" stroke-linecap="butt"/>
<line x1="1506.89" y1="716.8" x2="1506.89" y2="730.5" stroke="#000000" stroke-width="5" stroke-linecap="butt"/>
<line x1="1563.51" y1="716.8" x2="1563.51" y2="730.5" stroke="#000000" stroke-width="5" stroke-linecap="butt"/>
<text transform="matrix(0.3936 0 0 0.4143 570.74 199.29)" fill="#000000" letter-spacing="2.5" stroke="#fff" stroke-width="0.5">1000</text>
<text transform="matrix(0.3936 0 0 0.4143 593.57 304.99)" fill="#000000" letter-spacing="2.5" stroke="#fff" stroke-width="0.5">800</text>
<text transform="matrix(0.3936 0 0 0.4143 593.57 412.59)" fill="#000000" letter-spacing="2.5" stroke="#fff" stroke-width="0.5">600</text>
<text transform="matrix(0.3936 0 0 0.4143 593.57 519.89)" fill="#000000" letter-spacing="2.5" stroke="#fff" stroke-width="0.5">400</text>
<text transform="matrix(0.3936 0 0 0.4143 593.57 626.09)" fill="#000000" letter-spacing="2.5" stroke="#fff" stroke-width="0.5">200</text>
<text transform="matrix(0.3936 0 0 0.4143 639.43 731.29)" fill="#000000" letter-spacing="2.5" stroke="#fff" stroke-width="0.5">0</text>
<text transform="matrix(0.4028 0 0 0.39 674.52 777.7)" fill="#000000" letter-spacing="2.5" stroke="#fff" stroke-width="0.5">0</text>
<text transform="matrix(0.4028 0 0 0.39 804.14 777.31)" fill="#000000" letter-spacing="2.5" stroke="#fff" stroke-width="0.5">15</text>
<text transform="matrix(0.4028 0 0 0.39 945.64 777.7)" fill="#000000" letter-spacing="2.5" stroke="#fff" stroke-width="0.5">30</text>
<text transform="matrix(0.4028 0 0 0.39 1086.14 777.31)" fill="#000000" letter-spacing="2.5" stroke="#fff" stroke-width="0.5">45</text>
<text transform="matrix(0.4028 0 0 0.39 1227.14 777.7)" fill="#000000" letter-spacing="2.5" stroke="#fff" stroke-width="0.5">60</text>
<text transform="matrix(0.4028 0 0 0.39 1368.64 777.31)" fill="#000000" letter-spacing="2.5" stroke="#fff" stroke-width="0.5">75</text>
<text transform="matrix(0.4028 0 0 0.39 1509.24 777.7)" fill="#000000" letter-spacing="2.5" stroke="#fff" stroke-width="0.5">90</text>
<text transform="matrix(0.4377 0 0 0.5259 1006.24 855.93)" fill="#000000" letter-spacing="2" stroke="#fff" stroke-width="1">Time (min)</text>
<text transform="matrix(0 -0.4658 0.5157 0 544.94 537.2)" fill="#000000" letter-spacing="2" stroke="#fff" stroke-width="1">CPA (ng/ml)</text>
<circle cx="1668" cy="105" r="12.5" fill="#ff0000"/>
<text transform="matrix(0.6695 0 0 0.7246 1747.35 128.9)" fill="#ff0000" letter-spacing="2.5">Intravenous</text>
<line x1="1602.8" y1="195" x2="1732.3" y2="195" stroke="#0000ff" stroke-width="9" stroke-linecap="butt"/>
<path d="M1669.2 176.6L1687.35 212.85L1651.05 212.85Z" fill="#fff" stroke="#0000ff" stroke-width="8.5" stroke-linejoin="round"/>
<text transform="matrix(0.6815 0 0 0.7243 1747.33 216.84)" fill="#0000ff" letter-spacing="2" stroke="#fff" stroke-width="0.5">CH100</text>
<line x1="1603" y1="291.6" x2="1732.5" y2="291.6" stroke="#00ced1" stroke-width="10" stroke-linecap="butt"/>
<circle cx="1667.3" cy="290.6" r="10.35" fill="#fff" stroke="#00ced1" stroke-width="8.9"/>
<text transform="matrix(0.6734 0 0 0.7114 1747.79 313.74)" fill="#00ced1" letter-spacing="2" stroke="#fff" stroke-width="0.5">MC100</text>
<line x1="1603" y1="392.4" x2="1732.5" y2="392.4" stroke="#008c00" stroke-width="10" stroke-linecap="butt"/>
<rect x="1655.8" y="375.9" width="24.2" height="27.3" fill="#008c00"/>
<text transform="matrix(0.6761 0 0 0.7057 1747.77 413.55)" fill="#008c00" letter-spacing="2" stroke="#fff" stroke-width="0.5">MC50</text>
</svg></body></html>
